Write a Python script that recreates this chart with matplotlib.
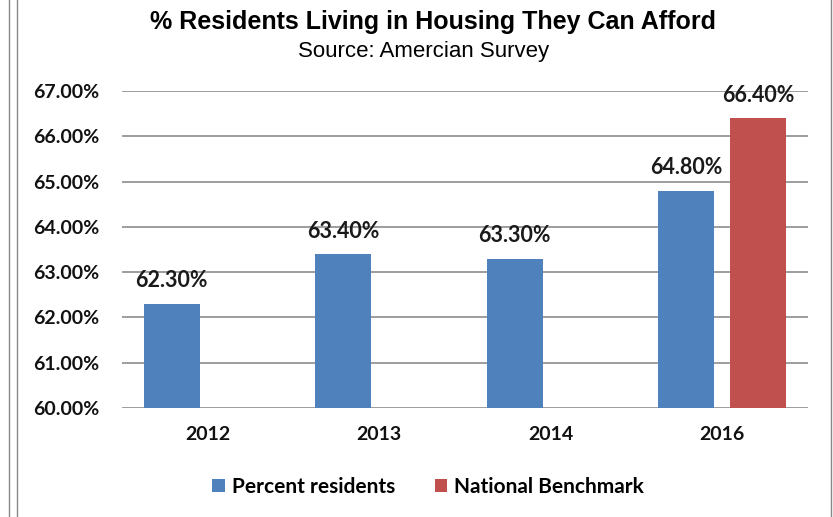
import numpy as np
import matplotlib
matplotlib.use("Agg")
import matplotlib.pyplot as plt
from matplotlib.lines import Line2D

years = ["2012", "2013", "2014", "2016"]
percent_residents = [62.3, 63.4, 63.3, 64.8]
national_benchmark = [np.nan, np.nan, np.nan, 66.4]
yticks = [60, 61, 62, 63, 64, 65, 66, 67]

BLUE = "#4F81BD"
RED = "#C0504D"
LFONT = "Lato"

fig = plt.figure(figsize=(8.33, 5.17), dpi=100)
ax = fig.add_axes([122/833, 1-408/517, (808-122)/833, (408-91)/517])

x = np.arange(len(years))
w = 0.327
off = 0.21
b1 = ax.bar(x - off, percent_residents, w, color=BLUE, label="Percent residents", zorder=3)
b2 = ax.bar(x + off, national_benchmark, w, color=RED, label="National Benchmark", zorder=3)

lab1 = [f"{v:.2f}%" for v in percent_residents]
lab2 = ["" if np.isnan(v) else f"{v:.2f}%" for v in national_benchmark]
ax.bar_label(b1, labels=lab1, padding=9, fontsize=15.5, fontweight="bold", family=LFONT, color="#1a1a1a")
ax.bar_label(b2, labels=lab2, padding=9, fontsize=15.5, fontweight="bold", family=LFONT, color="#1a1a1a")

ax.set_ylim(60, 67)
ax.set_xlim(-0.5, 3.5)
ax.set_yticks(yticks)
ax.set_yticklabels([f"{v:.2f}%" for v in yticks], fontsize=14, fontweight="bold", family=LFONT)
ax.set_xticks(x)
ax.set_xticklabels(years, fontsize=14, fontweight="bold", family=LFONT)
ax.tick_params(axis="both", length=0, colors="#111111")
ax.tick_params(axis="y", pad=16.5)
ax.tick_params(axis="x", pad=13)
ax.grid(axis="y", color="#8c8c8c", linewidth=1.2, zorder=0)
for s in ax.spines.values():
    s.set_visible(False)

fig.text(0.52, 1-22/517, "% Residents Living in Housing They Can Afford", ha="center", va="center",
         fontsize=18, fontweight="bold", family="Liberation Sans")
fig.text(0.509, 1-52/517, "Source: Amercian Survey", ha="center", va="center",
         fontsize=16, family="Liberation Sans")

leg = fig.legend(handles=[b1, b2], labels=["Percent residents", "National Benchmark"],
                 loc="center", bbox_to_anchor=(0.514, 1-487/517), ncol=2, frameon=False,
                 prop={"family": LFONT, "weight": "bold", "size": 15},
                 handlelength=0.6, handleheight=0.6, handletextpad=0.35, columnspacing=1.9)

for xp in [8.5/833, 17/833, 831/833]:
    fig.add_artist(Line2D([xp, xp], [0, 1], transform=fig.transFigure, color="#888888", linewidth=1))

fig.savefig("out.png", dpi=100)
